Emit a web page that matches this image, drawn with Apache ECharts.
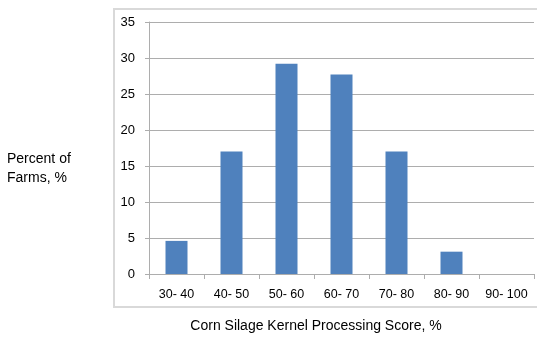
<!DOCTYPE html>
<html>
<head>
<meta charset="utf-8">
<script src="https://cdn.jsdelivr.net/npm/echarts@6/dist/echarts.min.js"></script>
<style>
  html, body { margin: 0; padding: 0; background: #fff; }
  #chart { width: 537px; height: 337px; }
</style>
</head>
<body>
<div id="chart"></div>
<script>
// Kernel processing score bins and share of farms in each bin
const scoreBins = ['30- 40', '40- 50', '50- 60', '60- 70', '70- 80', '80- 90', '90- 100'];
const percentFarms = [4.6, 17.0, 29.2, 27.7, 17.0, 3.1, 0];
const yTicks = { min: 0, max: 35, interval: 5 };

const yTitle = 'Percent of\nFarms, %';
const xTitle = 'Corn Silage Kernel Processing Score, %';

const font = 'Liberation Sans, Arial, sans-serif';
const gridGray = '#adadad';

const chart = echarts.init(document.getElementById('chart'), null, { renderer: 'canvas' });
chart.setOption({
  animation: false,
  backgroundColor: '#ffffff',
  grid: { left: 149, top: 22, right: 3, bottom: 63, containLabel: false },
  graphic: [
    {
      type: 'rect',
      shape: { x: 114, y: 9, width: 440, height: 298 },
      style: { fill: 'none', stroke: '#d9d9d9', lineWidth: 2 },
      silent: true
    },
    {
      type: 'text',
      left: 7, top: 150,
      style: { text: yTitle, font: '14px ' + font, fill: '#000', lineHeight: 18.5 }
    },
    {
      type: 'text',
      x: 316, y: 326,
      style: { text: xTitle, font: '14px ' + font, fill: '#000', align: 'center', verticalAlign: 'middle' }
    }
  ],
  xAxis: {
    type: 'category',
    data: scoreBins,
    boundaryGap: true,
    axisLine: { lineStyle: { color: gridGray, width: 1 } },
    axisTick: { show: true, length: 5, alignWithLabel: false, lineStyle: { color: gridGray } },
    axisLabel: { color: '#000', fontFamily: font, fontSize: 12.5, margin: 14, interval: 0 },
    splitLine: { show: false }
  },
  yAxis: {
    type: 'value',
    min: yTicks.min, max: yTicks.max, interval: yTicks.interval,
    axisLine: { show: true, lineStyle: { color: gridGray, width: 1 } },
    axisTick: { show: true, length: 4, lineStyle: { color: gridGray } },
    axisLabel: { color: '#000', fontFamily: font, fontSize: 13, margin: 14 },
    splitLine: { show: true, lineStyle: { color: gridGray, width: 1 } }
  },
  series: [{
    type: 'bar',
    data: percentFarms,
    barWidth: 22,
    itemStyle: { color: '#4f81bd' }
  }]
});
</script>
</body>
</html>
